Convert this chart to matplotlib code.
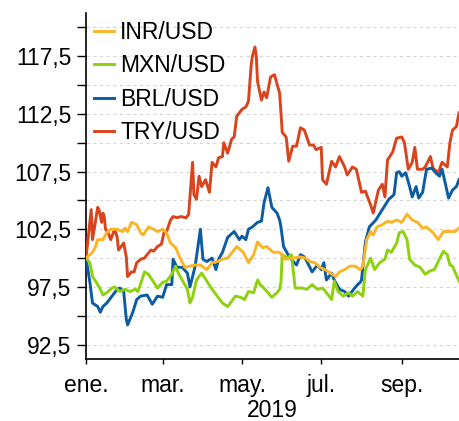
import matplotlib
matplotlib.use("Agg")
import matplotlib.pyplot as plt
import matplotlib.ticker as mticker
import pandas as pd

plt.rcParams['font.family'] = ['Liberation Sans', 'DejaVu Sans']

# days since 2019-01-01, index value (01/01/2019 = 100)
inr_days = [0, 5, 7, 9, 13, 16, 19, 24, 28, 30, 32, 35, 39, 42, 44, 48, 52, 55, 59, 62, 65, 69, 72,
            76, 80, 84, 88, 93, 97, 101, 105, 109, 116, 121, 125, 129, 132, 136, 139, 144, 149,
            153, 159, 165, 169, 172, 176, 180, 184, 188, 192, 195, 199, 203, 207, 211, 213, 216,
            219, 221, 224, 228, 232, 235, 239, 243, 247, 251, 255, 259, 262, 267, 271, 275, 280,
            284, 287]
inr_vals = [100.0, 100.5, 100.9, 101.6, 101.6, 102.2, 102.5, 102.5, 102.3, 102.6, 102.3, 103.1,
            102.9, 102.2, 102.0, 102.7, 102.5, 102.3, 102.5, 102.2, 101.3, 100.9, 100.1, 99.2,
            99.3, 99.4, 99.4, 99.0, 99.6, 99.7, 99.9, 100.0, 101.0, 100.5, 99.6, 100.3, 101.4,
            100.9, 101.0, 100.5, 100.5, 99.9, 100.0, 100.1, 100.0, 99.7, 99.6, 99.2, 99.0, 98.7,
            98.4, 98.8, 99.0, 99.3, 99.3, 99.0, 99.3, 101.6, 102.3, 102.0, 102.7, 102.9, 103.2,
            103.1, 103.3, 103.1, 103.8, 103.3, 103.1, 102.6, 102.7, 102.2, 101.6, 102.3, 102.3,
            102.3, 102.6]

mxn_days = [0, 3, 5, 9, 11, 13, 16, 20, 22, 26, 30, 34, 38, 40, 43, 45, 48, 51, 55, 59, 62, 66,
            69, 71, 74, 78, 80, 82, 85, 89, 93, 97, 101, 105, 109, 115, 119, 122, 125, 129, 132,
            134, 136, 140, 143, 147, 149, 150, 151, 155, 158, 161, 166, 170, 174, 178, 182, 185,
            189, 191, 194, 198, 202, 205, 209, 213, 215, 219, 222, 226, 230, 232, 235, 239, 241,
            244, 247, 249, 253, 257, 261, 265, 268, 271, 275, 278, 280, 282, 287]
mxn_vals = [100.0, 99.6, 98.4, 97.7, 97.3, 96.8, 97.0, 97.4, 97.5, 97.1, 97.3, 97.1, 97.3, 97.1,
            98.1, 98.8, 98.6, 98.1, 97.4, 97.9, 98.0, 98.6, 99.3, 98.7, 98.1, 97.3, 96.1, 96.6,
            98.1, 98.7, 98.0, 97.3, 96.7, 96.1, 95.8, 96.7, 96.6, 96.4, 97.1, 97.0, 98.1, 97.7,
            97.5, 97.0, 96.6, 97.0, 97.3, 97.9, 100.3, 100.0, 100.3, 97.4, 97.4, 97.3, 97.7,
            97.3, 97.4, 97.0, 96.4, 98.0, 97.1, 96.7, 97.0, 96.7, 97.1, 96.7, 99.0, 100.0, 99.0,
            99.6, 99.9, 100.7, 100.5, 101.3, 102.2, 102.3, 101.6, 99.9, 99.4, 99.2, 98.6, 98.9,
            99.0, 99.7, 100.6, 100.3, 99.4, 99.3, 98.0]

brl_days = [0, 3, 5, 9, 11, 13, 16, 20, 24, 26, 29, 31, 32, 36, 39, 42, 47, 51, 55, 59, 62, 66,
            67, 70, 74, 78, 80, 84, 88, 90, 93, 97, 100, 102, 105, 109, 114, 118, 120, 123, 125,
            128, 132, 135, 137, 140, 143, 147, 149, 150, 152, 154, 157, 162, 165, 168, 170, 174,
            178, 181, 183, 185, 189, 191, 195, 199, 202, 206, 209, 211, 212, 215, 218, 223, 228,
            233, 237, 239, 241, 243, 246, 249, 251, 254, 256, 259, 262, 266, 269, 272, 274, 277,
            279, 282, 285, 287]
brl_vals = [100.0, 97.9, 96.1, 95.8, 95.3, 95.8, 96.1, 96.7, 97.3, 97.4, 97.1, 94.7, 94.2, 95.3,
            96.4, 96.7, 96.8, 96.0, 96.7, 96.6, 97.7, 97.7, 99.9, 99.2, 99.2, 98.7, 97.5, 99.3,
            102.5, 99.9, 99.7, 100.0, 99.0, 99.9, 100.5, 101.8, 102.3, 101.6, 101.9, 101.6,
            102.5, 102.7, 103.1, 103.2, 104.8, 106.1, 104.4, 103.9, 103.3, 102.7, 101.0, 100.6,
            100.0, 99.4, 100.3, 100.1, 99.7, 98.8, 99.4, 99.0, 99.6, 98.1, 98.7, 98.1, 97.3, 97.1,
            96.7, 97.3, 97.7, 97.9, 98.1, 101.4, 102.7, 103.3, 104.2, 105.1, 105.5, 107.4, 107.5,
            107.1, 107.4, 106.2, 105.3, 106.2, 105.2, 105.7, 107.7, 107.8, 107.4, 107.1, 107.7,
            106.2, 105.2, 105.9, 106.2, 106.8]

try_days = [0, 4, 5, 9, 10, 12, 13, 14, 15, 17, 19, 22, 24, 25, 27, 29, 31, 32, 35, 37, 39, 42,
            45, 47, 50, 52, 55, 58, 60, 62, 65, 67, 70, 73, 77, 79, 82, 83, 85, 87, 89, 92, 95,
            97, 100, 102, 105, 106, 109, 112, 114, 116, 120, 123, 125, 127, 128, 130, 131, 132,
            135, 137, 139, 142, 145, 149, 151, 154, 156, 159, 162, 165, 168, 172, 175, 177, 181,
            182, 185, 189, 192, 195, 199, 201, 205, 208, 212, 215, 219, 221, 225, 228, 230, 232,
            236, 239, 243, 245, 248, 251, 253, 255, 259, 261, 265, 267, 271, 274, 278, 280, 282,
            285, 287]
try_vals = [100.0, 104.2, 101.6, 104.4, 104.2, 103.1, 103.9, 103.6, 102.5, 102.2, 101.6, 102.5,
            101.8, 100.7, 101.0, 101.3, 100.1, 98.4, 98.8, 98.8, 99.6, 99.9, 100.0, 100.3, 100.7,
            100.6, 101.0, 101.2, 102.2, 102.3, 103.3, 103.6, 103.5, 103.6, 103.5, 103.8, 108.3,
            105.5, 105.1, 107.1, 106.2, 106.8, 105.7, 108.3, 107.9, 108.7, 108.8, 110.0, 109.1,
            110.3, 110.5, 112.3, 112.9, 113.1, 113.6, 116.6, 117.5, 118.3, 117.5, 115.3, 113.7,
            114.4, 113.9, 115.7, 115.9, 114.3, 110.9, 110.5, 108.4, 109.7, 109.7, 111.3, 111.1,
            109.8, 109.8, 109.4, 109.6, 106.8, 106.4, 108.4, 107.9, 108.8, 107.9, 107.2, 107.9,
            107.7, 105.7, 105.8, 104.6, 103.9, 105.9, 106.4, 105.3, 108.5, 109.2, 110.4, 110.5,
            110.0, 107.7, 108.3, 109.6, 107.7, 107.7, 107.9, 108.8, 107.8, 107.4, 108.3, 107.9,
            110.0, 111.1, 111.4, 112.6]

labels = ['INR/USD', 'MXN/USD', 'BRL/USD', 'TRY/USD']
colors = ['#F9B526', '#8DD10F', '#0B5CA2', '#D9441D']

start = pd.Timestamp('2019-01-01')


def to_dates(days):
    return start + pd.to_timedelta(days, unit='D')


fs = 16.5
fig = plt.figure(figsize=(4.59, 4.21), dpi=100)
ax = fig.add_axes([86 / 459, 1 - 359 / 421, 373 / 459, 346 / 421])

series = [(inr_days, inr_vals), (mxn_days, mxn_vals), (brl_days, brl_vals), (try_days, try_vals)]
handles = []
for i, (d, v) in enumerate(series):
    h, = ax.plot(to_dates(d), v, color=colors[i], lw=2.1, label=labels[i], zorder=10 - i)
    handles.append(h)

ax.set_ylim(91.25, 121.25)
ax.set_xlim(start, start + pd.Timedelta(days=287))

ax.yaxis.set_major_locator(mticker.FixedLocator([92.5, 97.5, 102.5, 107.5, 112.5, 117.5]))
ax.yaxis.set_minor_locator(mticker.FixedLocator([95, 100, 105, 110, 115, 120]))
ax.yaxis.set_major_formatter(mticker.FuncFormatter(lambda v, p: f'{v:.1f}'.replace('.', ',')))
ax.grid(True, which='both', axis='y', color='#d6d6d6', lw=0.8, ls=(0, (3, 3)))
ax.set_axisbelow(True)

ticks = [start + pd.DateOffset(months=m) for m in (0, 2, 4, 6, 8)]
ax.set_xticks(ticks)
ax.set_xticklabels(['ene.', 'mar.', 'may.', 'jul.', 'sep.'])
ax.set_xlabel('2019', fontsize=fs, labelpad=1.5)

ax.tick_params(axis='y', which='both', length=6.5, width=1, labelsize=fs, pad=4)
ax.tick_params(axis='x', length=3.5, width=1, labelsize=fs, pad=7)

for s in ['top', 'right']:
    ax.spines[s].set_visible(False)
for s in ['left', 'bottom']:
    ax.spines[s].set_linewidth(1.2)

ax.legend(handles=handles, loc='upper left', frameon=False, fontsize=fs,
          handlelength=0.87, handletextpad=0.28, labelspacing=0.45,
          bbox_to_anchor=(0.0, 1.0), borderaxespad=0.05, borderpad=0.3)

fig.savefig('out.png', dpi=100)
